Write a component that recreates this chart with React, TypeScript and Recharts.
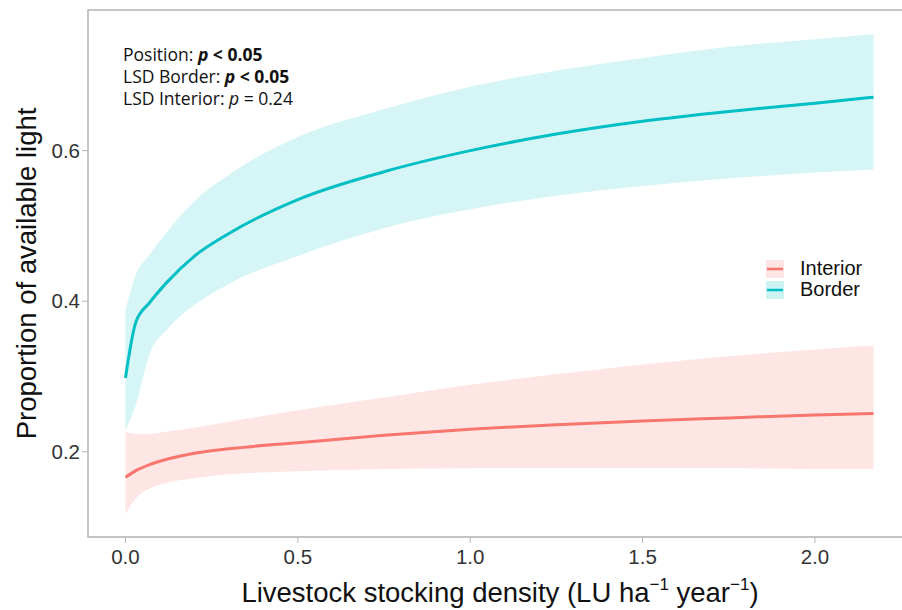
import React from 'react';
import {
  ComposedChart,
  Area,
  Line,
  XAxis,
  YAxis,
  ReferenceArea,
} from 'recharts';

// stocking density (LU ha-1 year-1)
const density = [0, 0.03, 0.07, 0.12, 0.2, 0.3, 0.5, 0.75, 1.0, 1.25, 1.5, 1.75, 2.0, 2.17];

const borderFit = [0.298, 0.372, 0.398, 0.425, 0.46, 0.49, 0.535, 0.572, 0.6, 0.622, 0.639, 0.652, 0.663, 0.671];
const borderLow = [0.228, 0.262, 0.33, 0.362, 0.395, 0.423, 0.46, 0.497, 0.522, 0.54, 0.553, 0.563, 0.571, 0.575];
const borderHigh = [0.388, 0.435, 0.462, 0.492, 0.533, 0.568, 0.618, 0.655, 0.685, 0.706, 0.723, 0.738, 0.748, 0.755];

const interiorFit = [0.166, 0.175, 0.183, 0.19, 0.198, 0.204, 0.212, 0.222, 0.23, 0.236, 0.241, 0.245, 0.249, 0.251];
const interiorLow = [0.117, 0.138, 0.151, 0.159, 0.165, 0.17, 0.174, 0.177, 0.178, 0.178, 0.178, 0.178, 0.177, 0.177];
const interiorHigh = [0.226, 0.224, 0.224, 0.227, 0.232, 0.24, 0.255, 0.272, 0.289, 0.303, 0.316, 0.327, 0.336, 0.341];

const xTicks = [0, 0.5, 1.0, 1.5, 2.0];
const yTicks = [0.2, 0.4, 0.6];

const legendItems = [
  { name: 'Interior', color: '#F8766D' },
  { name: 'Border', color: '#00BFC4' },
];

const data = density.map((x, i) => ({
  x,
  border: borderFit[i],
  borderBand: [borderLow[i], borderHigh[i]],
  interior: interiorFit[i],
  interiorBand: [interiorLow[i], interiorHigh[i]],
}));

const X_DOMAIN: [number, number] = [-0.1087, 2.2787];
const Y_DOMAIN: [number, number] = [0.0868, 0.7868];

const FONT = '"Liberation Sans", Arial, sans-serif';

function LegendBox() {
  return (
    <div
      style={{
        position: 'absolute',
        left: 766,
        top: 258,
        fontFamily: FONT,
        fontSize: 20,
        color: '#111',
      }}
    >
      {legendItems.map((it) => (
        <div key={it.name} style={{ display: 'flex', alignItems: 'center', height: 21 }}>
          <svg width={18} height={18} style={{ marginRight: 16 }}>
            <rect x={0} y={0} width={18} height={18} fill={it.color} fillOpacity={0.2} />
            <line x1={1} x2={17} y1={9} y2={9} stroke={it.color} strokeWidth={2.5} />
          </svg>
          <span>{it.name}</span>
        </div>
      ))}
    </div>
  );
}

function XLabel() {
  return (
    <text x={500} y={602} textAnchor="middle" fontFamily={FONT} fontSize={27.5} fill="#111">
      Livestock stocking density (LU ha
      <tspan fontSize={17} dy={-12}>−1</tspan>
      <tspan dy={12}> year</tspan>
      <tspan fontSize={17} dy={-12}>−1</tspan>
      <tspan dy={12}>)</tspan>
    </text>
  );
}

function YLabel(props: any) {
  const vb = props.viewBox || {};
  const cy = vb.y + vb.height / 2;
  return (
    <text
      x={36}
      y={cy}
      transform={`rotate(-90, 36, ${cy})`}
      textAnchor="middle"
      fontFamily={FONT}
      fontSize={27.5}
      fill="#111"
    >
      Proportion of available light
    </text>
  );
}

export default function App() {
  return (
    <div
      style={{
        position: 'absolute',
        left: 0,
        top: 0,
        width: 902,
        height: 610,
        overflow: 'hidden',
        background: '#fff',
      }}
    >
      <ComposedChart
        width={930}
        height={610}
        data={data}
        margin={{ top: 10, right: 19, bottom: 43, left: 0 }}
      >
        <XAxis
          dataKey="x"
          type="number"
          height={30}
          domain={X_DOMAIN}
          allowDataOverflow
          ticks={xTicks}
          tickFormatter={(v: number) => v.toFixed(1)}
          tick={{ fontSize: 20.5, fill: '#333', fontFamily: FONT, dy: 4 }}
          tickLine={{ stroke: '#b3b3b3' }}
          tickSize={6}
          axisLine={false}
          label={<XLabel />}
        />
        <YAxis
          type="number"
          width={88}
          domain={Y_DOMAIN}
          allowDataOverflow
          ticks={yTicks}
          tickFormatter={(v: number) => v.toFixed(1)}
          tick={{ fontSize: 20.5, fill: '#333', fontFamily: FONT }}
          tickLine={{ stroke: '#b3b3b3' }}
          tickSize={6}
          axisLine={false}
          label={<YLabel />}
        />
        <ReferenceArea
          x1={X_DOMAIN[0]}
          x2={X_DOMAIN[1]}
          y1={Y_DOMAIN[0]}
          y2={Y_DOMAIN[1]}
          fill="none"
          stroke="#b3b3b3"
          strokeWidth={1.5}
          ifOverflow="visible"
        />
        <Area
          dataKey="borderBand"
          type="monotone"
          stroke="none"
          fill="#00BFC4"
          fillOpacity={0.16}
          isAnimationActive={false}
        />
        <Area
          dataKey="interiorBand"
          type="monotone"
          stroke="none"
          fill="#F8766D"
          fillOpacity={0.18}
          isAnimationActive={false}
        />
        <Line
          dataKey="border"
          type="monotone"
          stroke="#00BFC4"
          strokeWidth={3}
          dot={false}
          isAnimationActive={false}
        />
        <Line
          dataKey="interior"
          type="monotone"
          stroke="#F8766D"
          strokeWidth={3}
          dot={false}
          isAnimationActive={false}
        />
      </ComposedChart>
      <LegendBox />
      <div
        style={{
          position: 'absolute',
          left: 123,
          top: 43,
          fontFamily: '"Open Sans", "Noto Sans", sans-serif',
          fontSize: 17.5,
          lineHeight: '22px',
          color: '#111',
        }}
      >
        <div>
          Position: <b><i>p</i> &lt; 0.05</b>
        </div>
        <div>
          LSD Border: <b><i>p</i> &lt; 0.05</b>
        </div>
        <div>
          LSD Interior: <i>p</i> = 0.24
        </div>
      </div>
    </div>
  );
}
